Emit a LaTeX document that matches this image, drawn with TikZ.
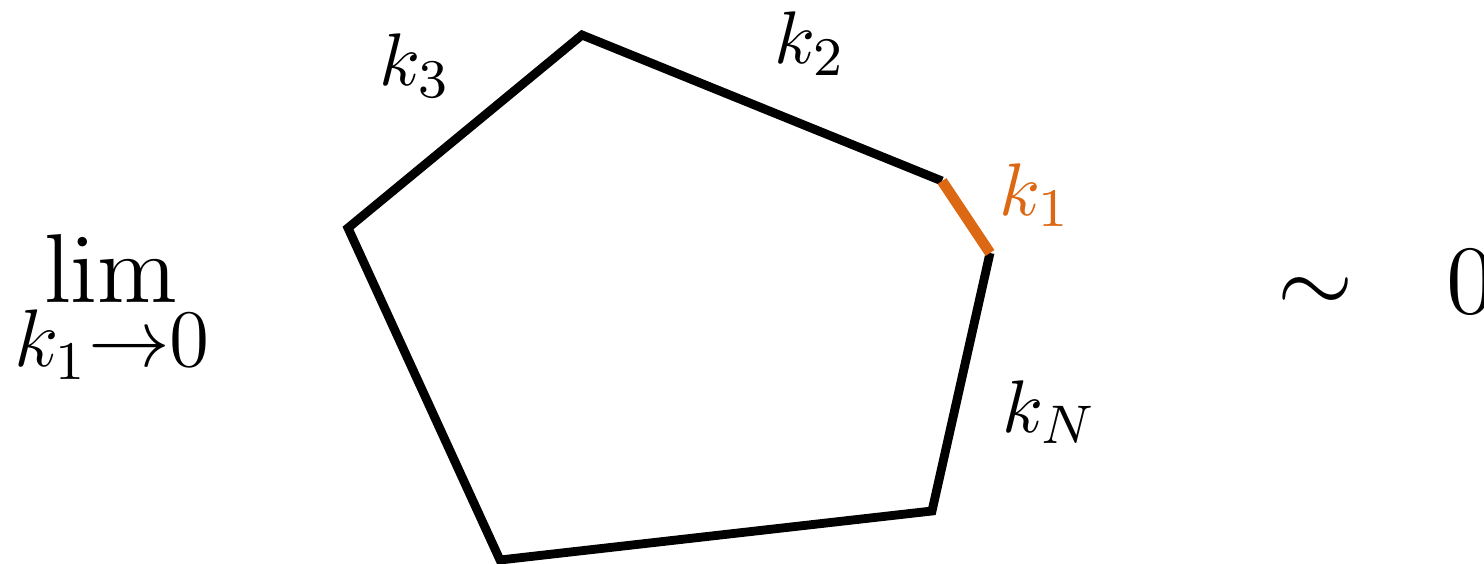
\documentclass[tikz,border=0pt]{standalone}
\usepackage{amsmath}
\definecolor{korange}{RGB}{220,104,20}
\begin{document}
\begin{tikzpicture}[x=0.147pt,y=-0.147pt,
  edge/.style={line width=1.3pt,line join=miter},
  hot/.style={line width=1.55pt,draw=korange},
  lbl/.style={inner sep=0pt,anchor=base west,font=\fontsize{11.2}{13}\selectfont},
  big/.style={inner sep=0pt,font=\fontsize{14.4}{17}\selectfont},
  bigger/.style={inner sep=0pt,font=\fontsize{15.6}{18}\selectfont}]
\useasboundingbox (0,0) rectangle (1484,564);
\coordinate (A) at (582,35);
\coordinate (B) at (942,181);
\coordinate (C) at (990,253);
\coordinate (D) at (932,511);
\coordinate (E) at (500,560);
\coordinate (F) at (348,228);
\draw[edge] (B) -- (A) -- (F) -- (E) -- (D) -- (C);
\draw[hot] (B) -- (C);
\node[lbl] (l3) at (378,86) {$k_3$};
\node[lbl] (l2) at (773,64) {$k_2$};
\node[lbl,text=korange] (l1) at (998,215) {$k_1$};
\node[lbl] (lN) at (1001,432) {$k_N$};
\node[big,anchor=base] (lim) at (111,303) {$\lim$};
\node[inner sep=0pt,anchor=base,font=\fontsize{11.6}{13}\selectfont] (sub) at (112,367) {$k_1{\to}0$};
\node[bigger,anchor=base] (sim) at (1316,313) {$\sim$};
\node[bigger,anchor=base west] (zero) at (1445,313) {$0$};
\end{tikzpicture}
\end{document}
